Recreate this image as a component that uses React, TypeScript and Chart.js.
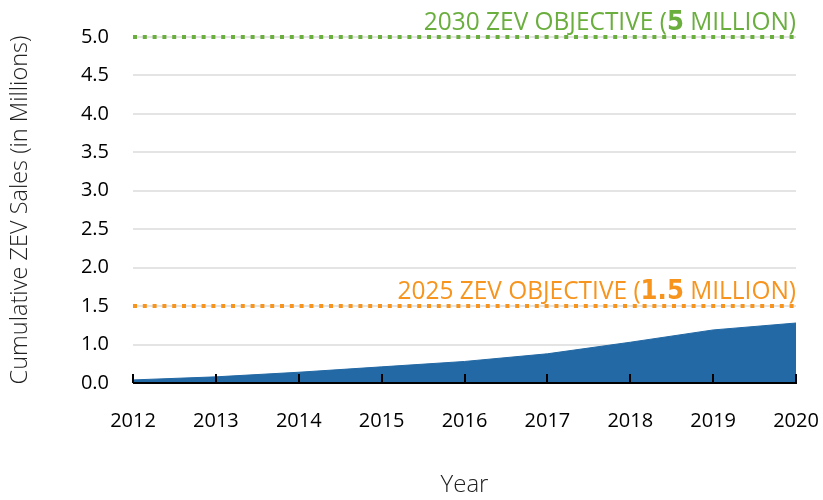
import React, { useEffect, useRef } from "react";
import { Chart, registerables } from "chart.js";

Chart.register(...registerables);

const years = ["2012", "2013", "2014", "2015", "2016", "2017", "2018", "2019", "2020"];
const cumulativeSales = [0.54, 0.58, 0.64, 0.71, 0.78, 0.88, 1.03, 1.19, 1.28];
const objective2030 = [5, 5, 5, 5, 5, 5, 5, 5, 5];
const objective2025 = [1.5, 1.5, 1.5, 1.5, 1.5, 1.5, 1.5, 1.5, 1.5];
const label2030 = ["2030 ZEV OBJECTIVE (", "5", " MILLION)"];
const label2025 = ["2025 ZEV OBJECTIVE (", "1.5", " MILLION)"];

const BLUE = "#2369a5";
const GREEN = "#6aae3e";
const ORANGE = "#f7941d";
const TICK_FONT = "'Open Sans', 'Noto Sans', sans-serif";

const overlayPlugin = {
  id: "overlay",
  afterDatasetsDraw(chart: any) {
    const { ctx, chartArea, scales } = chart;
    const x = scales.x;
    const y = scales.y;
    ctx.save();
    ctx.strokeStyle = "#000";
    ctx.lineWidth = 2;
    ctx.beginPath();
    ctx.moveTo(chartArea.left, chartArea.bottom);
    ctx.lineTo(chartArea.right + 1, chartArea.bottom);
    ctx.stroke();
    years.forEach((_, i) => {
      const px = Math.round(x.getPixelForValue(i));
      ctx.beginPath();
      ctx.moveTo(px, chartArea.bottom);
      ctx.lineTo(px, chartArea.bottom - 9);
      ctx.stroke();
    });
    const SX = 0.94;
    const drawLabel = (parts: string[], value: number, color: string) => {
      const baseY = y.getPixelForValue(value) - 7;
      ctx.save();
      ctx.translate(chartArea.right, baseY);
      ctx.scale(SX, 1);
      let right = 0;
      ctx.fillStyle = color;
      ctx.textBaseline = "alphabetic";
      ctx.textAlign = "right";
      for (let i = parts.length - 1; i >= 0; i--) {
        const bold = i === 1;
        ctx.font = bold
          ? `bold 26px 'DejaVu Sans', sans-serif`
          : `400 26px ${TICK_FONT}`;
        ctx.fillText(parts[i], right, 0);
        right -= ctx.measureText(parts[i]).width;
      }
      ctx.restore();
    };
    drawLabel(label2030, 5, GREEN);
    drawLabel(label2025, 1.5, ORANGE);
    ctx.restore();
  },
};

export default function App() {
  const ref = useRef<HTMLCanvasElement>(null);
  useEffect(() => {
    document.body.style.margin = "0";
    const chart = new Chart(ref.current as HTMLCanvasElement, {
      type: "line",
      data: {
        labels: years,
        datasets: [
          {
            label: "Cumulative ZEV Sales",
            data: cumulativeSales,
            fill: "start",
            backgroundColor: BLUE,
            borderColor: BLUE,
            borderWidth: 1,
            pointRadius: 0,
            tension: 0,
            order: 3,
          },
          {
            label: "2025 objective",
            data: objective2025,
            fill: false,
            borderColor: ORANGE,
            borderWidth: 4,
            borderDash: [4, 5.8],
            borderCapStyle: "butt",
            pointRadius: 0,
            clip: 10,
            order: 2,
          },
          {
            label: "2030 objective",
            data: objective2030,
            fill: false,
            borderColor: GREEN,
            borderWidth: 4,
            borderDash: [4, 5.8],
            borderCapStyle: "butt",
            pointRadius: 0,
            clip: 10,
            order: 1,
          },
        ],
      },
      options: {
        animation: false,
        responsive: false,
        maintainAspectRatio: false,
        layout: { padding: { top: 37, right: 27, left: 0, bottom: 0 } },
        plugins: { legend: { display: false }, tooltip: { enabled: false } },
        scales: {
          x: {
            offset: false,
            grid: { display: false, drawTicks: false },
            border: { display: false },
            ticks: {
              color: "#000",
              font: { family: TICK_FONT, size: 20 },
              padding: 26,
              maxRotation: 0,
              autoSkip: false,
            },
            title: {
              display: true,
              text: "Year",
              color: "#222",
              font: { family: TICK_FONT, size: 24, weight: "300" },
              padding: { top: 30, bottom: 0 },
            },
            afterFit: (s: any) => {
              s.height = 117;
              s.paddingRight = 0;
              s.paddingLeft = 0;
            },
          },
          y: {
            min: 0.5,
            max: 5,
            grid: { color: "#e4e4e4", lineWidth: 2, drawTicks: false },
            border: { display: false },
            ticks: {
              stepSize: 0.5,
              color: "#000",
              font: { family: TICK_FONT, size: 20 },
              padding: 24,
              callback: (v: any) => (Number(v) === 0.5 ? "0.0" : Number(v).toFixed(1)),
            },
            title: {
              display: true,
              text: "Cumulative ZEV Sales (in Millions)",
              color: "#222",
              font: { family: TICK_FONT, size: 23.5, weight: "300" },
              padding: { top: 6, bottom: 0 },
            },
            afterFit: (s: any) => {
              s.width = 133;
              s.paddingTop = 0;
              s.paddingBottom = 0;
            },
          },
        },
      },
      plugins: [overlayPlugin],
    } as any);
    return () => chart.destroy();
  }, []);
  return (
    <div style={{ width: 823, height: 500 }}>
      <canvas ref={ref} width={823} height={500} style={{ display: "block" }} />
    </div>
  );
}
